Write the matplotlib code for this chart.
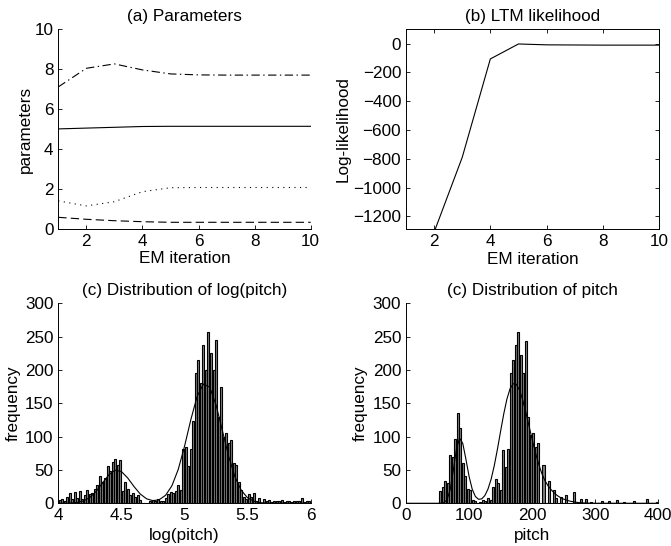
import numpy as np
import matplotlib
matplotlib.use("Agg")
import matplotlib.pyplot as plt

plt.rcParams['font.family'] = ['Liberation Sans', 'DejaVu Sans']
plt.rcParams['font.size'] = 12.3
plt.rcParams['lines.scale_dashes'] = False
plt.rcParams['axes.unicode_minus'] = True

# ---------------- data ----------------
em_iter = [1, 2, 3, 4, 5, 6, 7, 8, 9, 10]
param_dashdot = [7.12, 8.05, 8.27, 7.97, 7.77, 7.72, 7.71, 7.71, 7.71, 7.71]
param_solid = [5.02, 5.06, 5.10, 5.14, 5.15, 5.15, 5.15, 5.15, 5.15, 5.15]
param_dotted = [1.42, 1.17, 1.38, 1.88, 2.08, 2.09, 2.09, 2.09, 2.09, 2.09]
param_dashed = [0.60, 0.50, 0.43, 0.38, 0.35, 0.35, 0.35, 0.35, 0.35, 0.35]

loglik = [-4000, -1310, -790, -106, -2, -8, -9, -10, -10, -10]

log_bin_start = 4.0
log_bin_width = 0.02
log_counts = [5, 7, 3, 9, 15, 6, 17, 8, 18, 6,
              12, 20, 14, 16, 22, 27, 41, 32, 38, 56,
              48, 62, 67, 58, 65, 18, 32, 22, 13, 15,
              10, 12, 5, 0, 0, 0, 3, 5, 4, 7,
              3, 4, 8, 14, 17, 16, 18, 28, 20, 82,
              85, 56, 82, 124, 195, 215, 180, 237, 200, 257,
              225, 200, 245, 130, 175, 100, 105, 90, 95, 60,
              57, 32, 20, 10, 7, 14, 10, 16, 3, 8,
              0, 7, 3, 5, 2, 3, 4, 3, 5, 2,
              4, 3, 2, 4, 3, 3, 8, 2, 3, 3]
log_curve_x = [4.00, 4.05, 4.10, 4.15, 4.20, 4.25, 4.30, 4.35, 4.40, 4.45,
               4.50, 4.55, 4.60, 4.65, 4.70, 4.75, 4.80, 4.85, 4.90, 4.95,
               5.00, 5.05, 5.10, 5.15, 5.20, 5.25, 5.30, 5.35, 5.40, 5.45,
               5.50, 5.55, 5.60, 5.65, 5.70, 5.75, 6.00]
log_curve_y = [0.0, 0.1, 0.3, 1.2, 3.5, 8.7, 17.9, 30.3, 42.6, 49.6,
               47.7, 38.0, 25.1, 13.8, 6.7, 3.9, 5.4, 12.0, 26.2, 50.6,
               85.3, 125.3, 160.3, 178.9, 174.1, 147.6, 109.2, 70.4, 39.5, 19.4,
               8.2, 3.1, 1.0, 0.3, 0.1, 0.0, 0.0]

pitch_bin_start = 0.0
pitch_bin_width = 4.0
pitch_counts = [0, 0, 0, 0, 0, 0, 0, 0, 0, 0,
                0, 0, 0, 18, 25, 34, 30, 72, 70, 96,
                135, 113, 60, 41, 22, 20, 5, 3, 0, 2,
                5, 3, 8, 5, 25, 37, 30, 20, 80, 55,
                82, 195, 215, 238, 257, 222, 195, 243, 130, 103,
                105, 85, 90, 0, 58, 0, 33, 0, 20, 8,
                0, 10, 0, 12, 0, 0, 17, 0, 0, 7,
                0, 7, 0, 2, 1, 0, 0, 4, 0, 0,
                3, 0, 0, 5, 0, 0, 2, 0, 0, 0,
                4, 0, 0, 0, 0, 7, 0, 0, 0, 2]
pitch_curve_x = [0, 20, 40, 50, 55, 60, 65, 70, 75, 80, 85, 90, 95, 100,
                 105, 110, 115, 120, 125, 130, 135, 140, 145, 150, 155,
                 160, 165, 170, 175, 180, 185, 190, 195, 200, 205, 210,
                 215, 220, 225, 230, 235, 240, 245, 250, 260, 270, 280,
                 290, 300, 400]
pitch_curve_y = [0, 0, 0, 0.0, 0.1, 0.8, 5.3, 20.4, 49.3, 81.6, 97.7, 89.8,
                 66.1, 40.3, 21.1, 10.2, 6.0, 6.6, 11.6, 21.4, 36.3, 56.7,
                 81.4, 108.2, 134.2, 156.4, 171.9, 179.4, 178.4, 169.7,
                 155.1, 136.6, 116.2, 95.9, 76.8, 59.9, 45.5, 34.5, 26.5,
                 20.5, 15.5, 11.5, 8.5, 6.2, 3.2, 1.5, 0.6, 0.2, 0.05, 0]

# ---------------- figure ----------------
W, H = 671, 546
fig = plt.figure(figsize=(W / 100, H / 100), dpi=100)


def rect(l, r, t, b):
    return [l / W, 1 - b / H, (r - l) / W, (b - t) / H]


ax_a = fig.add_axes(rect(58.3, 310.7, 29.3, 229.3))
ax_b = fig.add_axes(rect(406, 659, 29.3, 229.3))
ax_c = fig.add_axes(rect(58.3, 310.7, 303.3, 503.3))
ax_d = fig.add_axes(rect(406, 658.3, 303.3, 503.3))


def style(ax, box=False):
    for s in ['top', 'right']:
        ax.spines[s].set_visible(box)
    for s in ax.spines.values():
        s.set_linewidth(0.7)
    ax.tick_params(direction='in', length=3, width=0.6, pad=3.5,
                   top=box, right=box, labelsize=12.3)


lw = 0.8
# (a)
ax_a.plot(em_iter, param_dashdot, color='k', lw=lw, dashes=(6, 2.5, 1, 2.5))
ax_a.plot(em_iter, param_solid, color='k', lw=lw)
ax_a.plot(em_iter, param_dotted, color='k', lw=lw, dashes=(0.8, 3.2))
ax_a.plot(em_iter, param_dashed, color='k', lw=lw, dashes=(6, 3))
ax_a.set_xlim(1, 10)
ax_a.set_ylim(0, 10)
ax_a.set_xticks([2, 4, 6, 8, 10])
ax_a.set_yticks([0, 2, 4, 6, 8, 10])
style(ax_a)
ax_a.set_title('(a) Parameters', fontsize=12.3, pad=6)
ax_a.set_xlabel('EM iteration', fontsize=12.3)
ax_a.set_ylabel('parameters', fontsize=12.3)
ax_a.xaxis.set_label_coords(0.5, -0.11)
ax_a.yaxis.set_label_coords(-0.10, 0.5)

# (b)
ax_b.plot(em_iter, loglik, color='k', lw=lw)
ax_b.set_xlim(1, 10)
ax_b.set_ylim(-1290, 100)
ax_b.set_xticks([2, 4, 6, 8, 10])
ax_b.set_yticks([0, -200, -400, -600, -800, -1000, -1200])
style(ax_b, box=True)
ax_b.set_title('(b) LTM likelihood', fontsize=12.3, pad=6)
ax_b.set_xlabel('EM iteration', fontsize=12.3)
ax_b.set_ylabel('Log-likelihood', fontsize=12.3)
ax_b.xaxis.set_label_coords(0.5, -0.115)
ax_b.yaxis.set_label_coords(-0.217, 0.5)

# (c)
log_centers = log_bin_start + log_bin_width * (np.arange(len(log_counts)) + 0.5)
ax_c.bar(log_centers, log_counts, width=log_bin_width * 0.8,
         color='0.5', edgecolor='k', linewidth=0.8)
ax_c.plot(log_curve_x, log_curve_y, color='k', lw=lw)
ax_c.set_xlim(4, 6)
ax_c.set_ylim(0, 300)
ax_c.set_xticks([4, 4.5, 5, 5.5, 6])
ax_c.set_xticklabels(['4', '4.5', '5', '5.5', '6'])
ax_c.set_yticks([0, 50, 100, 150, 200, 250, 300])
style(ax_c)
ax_c.set_title('(c) Distribution of log(pitch)', fontsize=12.3, pad=6)
ax_c.set_xlabel('log(pitch)', fontsize=12.3)
ax_c.set_ylabel('frequency', fontsize=12.3)
ax_c.xaxis.set_label_coords(0.5, -0.125)
ax_c.yaxis.set_label_coords(-0.148, 0.5)

# (d)
pitch_centers = pitch_bin_start + pitch_bin_width * (np.arange(len(pitch_counts)) + 0.5)
ax_d.bar(pitch_centers, pitch_counts, width=pitch_bin_width * 0.8,
         color='0.5', edgecolor='k', linewidth=0.8)
ax_d.plot(pitch_curve_x, pitch_curve_y, color='k', lw=lw)
ax_d.set_xlim(0, 400)
ax_d.set_ylim(0, 300)
ax_d.set_xticks([0, 100, 200, 300, 400])
ax_d.set_yticks([0, 50, 100, 150, 200, 250, 300])
style(ax_d)
ax_d.set_title('(c) Distribution of pitch', fontsize=12.3, pad=6)
ax_d.set_xlabel('pitch', fontsize=12.3)
ax_d.set_ylabel('frequency', fontsize=12.3)
ax_d.xaxis.set_label_coords(0.5, -0.125)
ax_d.yaxis.set_label_coords(-0.151, 0.5)

fig.savefig('out.png', dpi=100)
